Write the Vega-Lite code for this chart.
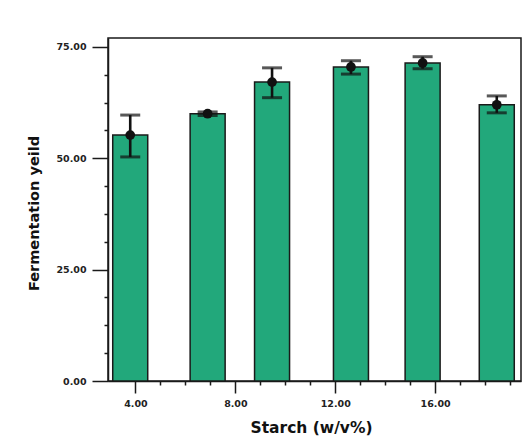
{
  "$schema": "https://vega.github.io/schema/vega-lite/v6.json",
  "width": 413,
  "height": 343,
  "autosize": "none",
  "padding": {"left": 108, "top": 38, "right": 5, "bottom": 63},
  "background": "white",
  "config": {
    "view": {"stroke": "#1a1a1a", "strokeWidth": 1.5},
    "axis": {
      "domainColor": "#1a1a1a",
      "domainWidth": 1.5,
      "tickColor": "#1a1a1a",
      "tickWidth": 1.5,
      "grid": false,
      "labelFont": "DejaVu Sans",
      "labelFontWeight": "bold",
      "labelFontSize": 9.5,
      "labelColor": "#222",
      "titleFont": "DejaVu Sans",
      "titleFontWeight": "bold",
      "titleColor": "#111"
    }
  },
  "data": {
    "values": [
      {"starch": 3.79, "yield": 55.2, "lo": 50.3, "hi": 59.7},
      {"starch": 6.89, "yield": 60.0, "lo": 59.6, "hi": 60.4},
      {"starch": 9.47, "yield": 67.1, "lo": 63.6, "hi": 70.3},
      {"starch": 12.63, "yield": 70.5, "lo": 68.9, "hi": 71.9},
      {"starch": 15.5, "yield": 71.4, "lo": 70.1, "hi": 72.8},
      {"starch": 18.47, "yield": 62.0, "lo": 60.2, "hi": 64.0}
    ]
  },
  "encoding": {
    "x": {
      "field": "starch",
      "type": "quantitative",
      "scale": {"domain": [3.1, 19.24], "nice": false, "zero": false},
      "axis": {
        "values": [4, 5, 6, 7, 8, 9, 10, 11, 12, 13, 14, 15, 16, 17, 18, 19],
        "labelExpr": "datum.value % 4 === 0 ? format(datum.value, '.2f') : ''",
        "tickSize": {"condition": {"test": "datum.value % 4 === 0", "value": 12}, "value": 4},
        "labelPadding": 5,
        "labelFlush": false,
        "labelOverlap": false,
        "title": "Starch (w/v%)",
        "titleFontSize": 15.5,
        "titleX": 203,
        "titleY": 51,
        "titleAnchor": null,
        "titleAlign": "center",
        "titleBaseline": "alphabetic"
      }
    },
    "y": {
      "field": "yield",
      "type": "quantitative",
      "scale": {"domain": [0, 77], "nice": false},
      "axis": {
        "values": [0, 6.25, 12.5, 18.75, 25, 31.25, 37.5, 43.75, 50, 56.25, 62.5, 68.75, 75],
        "labelExpr": "datum.value % 25 === 0 ? format(datum.value, '.2f') : ''",
        "tickSize": {"condition": {"test": "datum.value % 25 === 0", "value": 16}, "value": 4},
        "labelPadding": 6,
        "labelFlush": false,
        "labelOverlap": false,
        "title": "Fermentation yeild",
        "titleFontSize": 14.5,
        "titleAngle": -90,
        "titleX": -81,
        "titleY": 175,
        "titleAlign": "center",
        "titleBaseline": "top"
      }
    }
  },
  "layer": [
    {
      "mark": {"type": "bar", "size": 35, "fill": "#22a87b", "stroke": "#1a1a1a", "strokeWidth": 1.5}
    },
    {
      "mark": {"type": "rule", "color": "#111", "strokeWidth": 2.6},
      "encoding": {"y": {"field": "lo", "type": "quantitative"}, "y2": {"field": "hi"}}
    },
    {
      "mark": {"type": "tick", "orient": "horizontal", "color": "#111", "size": 20, "thickness": 3},
      "encoding": {"y": {"field": "lo", "type": "quantitative"}}
    },
    {
      "mark": {"type": "tick", "orient": "horizontal", "color": "#111", "size": 20, "thickness": 3},
      "encoding": {"y": {"field": "hi", "type": "quantitative"}}
    },
    {
      "mark": {"type": "point", "filled": true, "color": "#111", "size": 95, "opacity": 1}
    }
  ]
}
